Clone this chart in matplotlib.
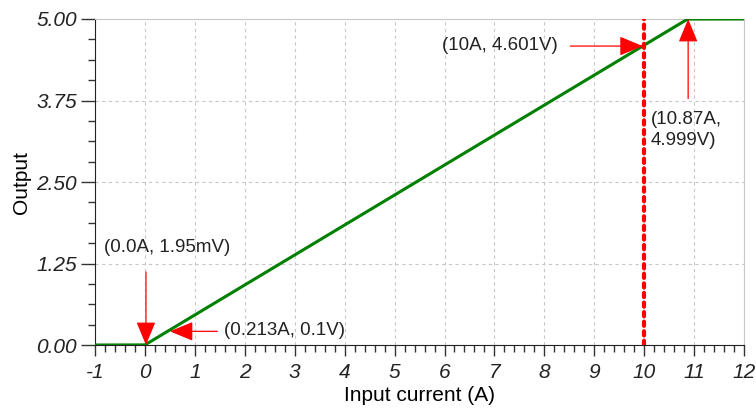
import matplotlib.pyplot as plt
from matplotlib.ticker import MultipleLocator, FormatStrFormatter

plt.rcParams['font.family'] = ['Liberation Sans', 'DejaVu Sans']
plt.rcParams['axes.unicode_minus'] = False

# Transfer curve (input current vs output voltage)
current = [-1.0, 0.0, 10.87, 12.0]
output = [0.0, 0.00195, 4.999, 5.0]

x_ticks = list(range(-1, 13))
y_ticks = [0.00, 1.25, 2.50, 3.75, 5.00]

# Annotations: text, text position, arrow tip, arrow tail
notes = [
    ("(0.0A, 1.95mV)", (-0.82, 1.49), (0.02, 0.0), (0.02, 1.12)),
    ("(0.213A, 0.1V)", (1.58, 0.23), (0.5, 0.21), (1.45, 0.21)),
    ("(10A, 4.601V)", (5.95, 4.59), (9.97, 4.585), (8.52, 4.585)),
    ("(10.87A,\n4.999V)", (10.13, 3.3), (10.88, 5.0), (10.88, 3.78)),
]

fig = plt.figure(figsize=(7.56, 4.13), dpi=100)
ax = fig.add_axes([0.1257, 0.1646, 0.8585, 0.7894])

ax.plot(current, output, color='#008000', linewidth=2.2, zorder=3)
ax.axvline(10, color='red', linestyle=(0, (1, 1.3)), linewidth=3,
           dash_capstyle='round', zorder=4)

for text, tpos, tip, tail in notes:
    ax.annotate('', xy=tip, xytext=tail,
                arrowprops=dict(arrowstyle='-|>,head_length=1.45,head_width=0.6',
                                color='red', lw=0.9, shrinkA=0, shrinkB=0),
                zorder=5)
    ax.text(tpos[0], tpos[1], text, fontsize=13.5, color='#222222',
            ha='left', va='center', linespacing=1.35, zorder=5)

ax.set_xlim(-1, 12)
ax.set_ylim(0, 5)
ax.set_xticks(x_ticks)
ax.set_yticks(y_ticks)
ax.yaxis.set_major_formatter(FormatStrFormatter('%.2f'))
ax.xaxis.set_minor_locator(MultipleLocator(0.2))
ax.yaxis.set_minor_locator(MultipleLocator(0.3125))

for lab in ax.get_xticklabels() + ax.get_yticklabels():
    lab.set_fontstyle('italic')
ax.tick_params(axis='both', which='major', labelsize=15, direction='out',
               length=8, width=1, colors='#333333', labelcolor='#222222')
ax.tick_params(axis='y', which='major', length=10, pad=3)
ax.tick_params(axis='both', which='minor', direction='out', length=5,
               width=1, colors='#333333')
ax.tick_params(axis='x', which='major', pad=5)

ax.grid(True, which='major', color='#c8c8c8', linestyle=(0, (3, 3)), linewidth=0.8)
ax.spines['top'].set_color('#c8c8c8')
ax.spines['right'].set_color('#c8c8c8')
ax.spines['left'].set_color('#222222')
ax.spines['bottom'].set_color('#222222')

ax.set_xlabel('Input current (A)', fontsize=15, labelpad=3)
ax.set_ylabel('Output', fontsize=15, labelpad=4)

fig.savefig('out.png', dpi=100)
